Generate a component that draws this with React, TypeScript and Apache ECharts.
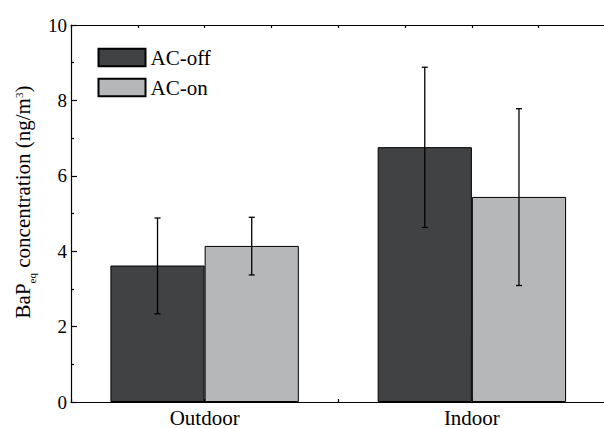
import React, { useEffect, useRef } from "react";
import * as echarts from "echarts";

const categories = ["Outdoor", "Indoor"];
const seriesNames = ["AC-off", "AC-on"];
const acOffMean = [3.62, 6.76];
const acOnMean = [4.14, 5.44];
const acOffHigh = [4.88, 8.88];
const acOffLow = [2.34, 4.63];
const acOnHigh = [4.9, 7.78];
const acOnLow = [3.37, 3.09];
const yTicks = { min: 0, max: 10, interval: 2 };

const FONT = "'Liberation Serif', 'Times New Roman', serif";
const GAP = 0.295;

export default function App() {
  const ref = useRef<HTMLDivElement>(null);

  useEffect(() => {
    if (!ref.current) return;
    const chart = echarts.init(ref.current, undefined, { renderer: "svg" });

    const errData: number[][] = [];
    categories.forEach((_c, i) => {
      errData.push([i, acOffHigh[i], acOffLow[i], 0]);
      errData.push([i, acOnHigh[i], acOnLow[i], 1]);
    });

    const lineStyle = { color: "#000", width: 1.2 };

    const option: any = {
      animation: false,
      backgroundColor: "#fff",
      grid: {
        left: 71,
        top: 25,
        width: 534.5,
        height: 377,
        containLabel: false,
        outerBoundsMode: "none",
      },
      legend: {
        data: seriesNames,
        orient: "vertical",
        left: 97.5,
        top: 47,
        padding: 0,
        itemWidth: 47,
        itemHeight: 17.5,
        itemGap: 9,
        icon: "rect",
        textStyle: { fontSize: 21, color: "#000", fontFamily: FONT, lineHeight: 18 },
      },
      xAxis: [
        {
          type: "category",
          data: categories,
          position: "bottom",
          axisLine: { show: true, lineStyle },
          axisTick: { show: false },
          axisLabel: { fontSize: 21, color: "#000", fontFamily: FONT, margin: 5 },
          splitLine: { show: false },
        },
        {
          type: "value",
          position: "bottom",
          min: 0,
          max: 8,
          interval: 1,
          axisLine: { show: false },
          axisTick: { show: true, inside: true, length: 3, lineStyle },
          axisLabel: { show: false },
          splitLine: { show: false },
        },
        {
          type: "value",
          position: "top",
          min: 0,
          max: 8,
          interval: 1,
          axisLine: { show: true, onZero: false, lineStyle },
          axisTick: { show: true, inside: true, length: 3, lineStyle },
          axisLabel: { show: false },
          splitLine: { show: false },
        },
      ],
      yAxis: {
        type: "value",
        min: yTicks.min,
        max: yTicks.max,
        interval: yTicks.interval,
        axisLine: { show: true, lineStyle },
        axisTick: { show: true, inside: true, length: 6, lineStyle },
        minorTick: { show: true, splitNumber: 2, length: 3, lineStyle },
        axisLabel: { fontSize: 19, color: "#000", fontFamily: FONT, margin: 4 },
        splitLine: { show: false },
      },
      graphic: [
        {
          type: "text",
          x: 23,
          y: 202,
          rotation: Math.PI / 2,
          style: {
            text: "{a|BaP}{sub|eq}{a| concentration (ng/m}{sup|3}{a|)}",
            align: "center",
            verticalAlign: "middle",
            fill: "#000",
            rich: {
              a: { fontSize: 21, fontFamily: FONT, lineHeight: 28, fill: "#000" },
              sub: { fontSize: 11, fontFamily: FONT, verticalAlign: "bottom", fill: "#000" },
              sup: { fontSize: 11, fontFamily: FONT, verticalAlign: "top", padding: [4, 0, 0, 0], fill: "#000" },
            },
          },
        },
        {
          type: "rect",
          z: 100,
          shape: { x: 600.5, y: 27, width: 4, height: 373 },
          style: { fill: "#fff" },
          silent: true,
        },
      ],
      series: [
        {
          name: seriesNames[0],
          type: "bar",
          xAxisIndex: 0,
          data: acOffMean,
          barGap: "0%",
          barCategoryGap: GAP * 100 + "%",
          itemStyle: { color: "#414244", borderColor: "#000", borderWidth: 1 },
        },
        {
          name: seriesNames[1],
          type: "bar",
          xAxisIndex: 0,
          data: acOnMean,
          barGap: "0%",
          barCategoryGap: GAP * 100 + "%",
          itemStyle: { color: "#b6b7b9", borderColor: "#000", borderWidth: 1 },
        },
        {
          type: "custom",
          xAxisIndex: 0,
          z: 5,
          data: errData,
          renderItem: (_params: any, api: any) => {
            const ci = api.value(0);
            const hi = api.value(1);
            const lo = api.value(2);
            const s = api.value(3);
            const base = api.coord([ci, 0]);
            const band = api.size([1, 0])[0];
            const barW = (band * (1 - GAP)) / 2;
            const cx = base[0] + (s === 0 ? -barW / 2 : barW / 2);
            const yHi = api.coord([ci, hi])[1];
            const yLo = api.coord([ci, lo])[1];
            const cap = 3;
            const st = { stroke: "#000", lineWidth: 1.3 };
            return {
              type: "group",
              children: [
                { type: "line", shape: { x1: cx, y1: yHi, x2: cx, y2: yLo }, style: st },
                { type: "line", shape: { x1: cx - cap, y1: yHi, x2: cx + cap, y2: yHi }, style: st },
                { type: "line", shape: { x1: cx - cap, y1: yLo, x2: cx + cap, y2: yLo }, style: st },
              ],
            };
          },
        },
      ],
    };

    chart.setOption(option);
    return () => chart.dispose();
  }, []);

  return (
    <div
      ref={ref}
      style={{ position: "fixed", left: 0, top: 0, width: 604, height: 428, background: "#fff" }}
    />
  );
}
